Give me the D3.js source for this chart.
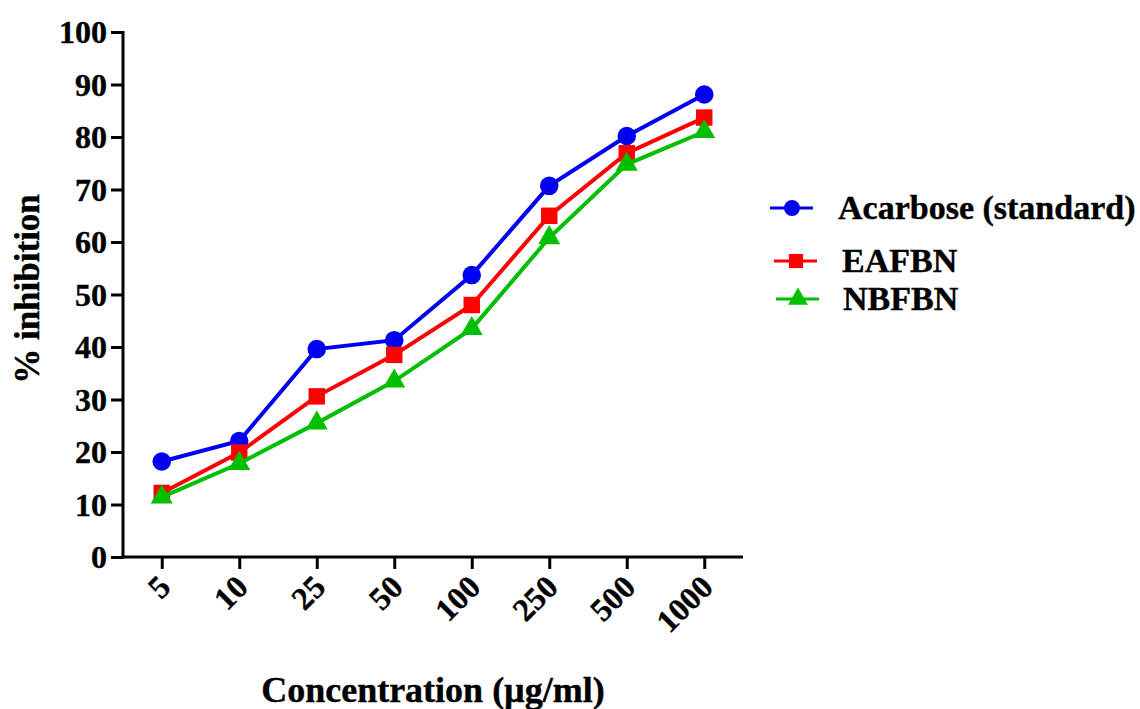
<!DOCTYPE html>
<html>
<head>
<meta charset="utf-8">
<script src="https://cdn.jsdelivr.net/npm/d3@7"></script>
<style>
  body { margin: 0; background: #fff; }
  svg text { font-family: "Liberation Serif", "Times New Roman", serif; font-weight: bold; fill: #000; stroke: #000; stroke-width: 0.4px; }
</style>
</head>
<body>
<div class="chart"></div>
<script>
const concentrations = ["5", "10", "25", "50", "100", "250", "500", "1000"];
const acarbose = [18.2, 22.1, 39.6, 41.3, 53.7, 70.7, 80.2, 88.1];
const eafbn = [12.2, 19.9, 30.6, 38.5, 48.0, 65.0, 76.9, 83.7];
const nbfbn = [11.4, 17.8, 25.5, 33.5, 43.5, 60.8, 74.8, 81.0];
const seriesNames = ["Acarbose (standard)", "EAFBN", "NBFBN"];
const yTicks = [0, 10, 20, 30, 40, 50, 60, 70, 80, 90, 100];

const w = 1140;
const h = 709;
const plotLeft = 123, plotRight = 743, plotTop = 32, plotBottom = 557;

const series = [
    { name: seriesNames[0], values: acarbose, color: "#0000f0", shape: d3.symbolCircle },
    { name: seriesNames[1], values: eafbn, color: "#ff0000", shape: d3.symbolSquare },
    { name: seriesNames[2], values: nbfbn, color: "#00bf00", shape: d3.symbolTriangle },
];

const xScale = d3.scalePoint().domain(concentrations).range([plotLeft, plotRight]).padding(0.5);
const yScale = d3.scaleLinear().domain([0, 100]).range([plotBottom, plotTop]);

const svg = d3.select(".chart").append("svg").attr("width", w).attr("height", h);

// axes
const yAxis = svg.append("g")
    .attr("transform", "translate(" + plotLeft + ",0)")
    .call(d3.axisLeft(yScale).tickValues(yTicks).tickSize(12).tickPadding(4).tickSizeOuter(0));
yAxis.select(".domain").attr("stroke-width", 3).attr("d", "M0," + (plotBottom + 1.5) + "V" + (plotTop - 1));
yAxis.selectAll(".tick line").attr("stroke-width", 3);
yAxis.selectAll(".tick text").attr("font-size", 32).attr("dy", "0.34em");

const xAxis = svg.append("g")
    .attr("transform", "translate(0," + plotBottom + ")")
    .call(d3.axisBottom(xScale).tickSize(12).tickSizeOuter(0));
xAxis.select(".domain").attr("stroke-width", 3).attr("d", "M" + (plotLeft - 1.5) + ",0H" + plotRight);
xAxis.selectAll(".tick line").attr("stroke-width", 3);
xAxis.selectAll(".tick text")
    .attr("font-size", 32)
    .attr("text-anchor", "end")
    .attr("dy", 0)
    .attr("y", 0)
    .attr("transform", "translate(10,32) rotate(-45)");

// axis titles
svg.append("text")
    .attr("x", (plotLeft + plotRight) / 2)
    .attr("y", 702)
    .attr("text-anchor", "middle")
    .attr("font-size", 36)
    .text("Concentration (µg/ml)");

svg.append("text")
    .attr("transform", "translate(39," + 289 + ") rotate(-90)")
    .attr("text-anchor", "middle")
    .attr("font-size", 35)
    .text("% inhibition");

// lines and markers
const line = d3.line().x((d, i) => xScale(concentrations[i])).y(d => yScale(d));

series.forEach(s => {
    svg.append("path")
        .datum(s.values)
        .attr("fill", "none")
        .attr("stroke", s.color)
        .attr("stroke-width", 4)
        .attr("d", line);
    svg.selectAll(null)
        .data(s.values)
        .enter()
        .append("path")
        .attr("d", d3.symbol().type(s.shape).size(s.shape === d3.symbolTriangle ? 210 : 270))
        .attr("fill", s.color)
        .attr("transform", (d, i) => "translate(" + xScale(concentrations[i]) + "," + yScale(d) + ")");
});

// legend
const legendRows = [
    { y: 208, x0: 770, tx: 838 },
    { y: 261, x0: 774, tx: 842 },
    { y: 299, x0: 776, tx: 843 },
];
series.forEach((s, i) => {
    const r = legendRows[i];
    const g = svg.append("g");
    g.append("line")
        .attr("x1", r.x0).attr("x2", r.x0 + 43)
        .attr("y1", r.y).attr("y2", r.y)
        .attr("stroke", s.color).attr("stroke-width", 3);
    g.append("path")
        .attr("d", d3.symbol().type(s.shape).size(s.shape === d3.symbolTriangle ? 170 : 200))
        .attr("fill", s.color)
        .attr("transform", "translate(" + (r.x0 + 22) + "," + r.y + ")");
    g.append("text")
        .attr("x", r.tx)
        .attr("y", r.y + 11)
        .attr("font-size", 34)
        .text(s.name);
});
</script>
</body>
</html>
